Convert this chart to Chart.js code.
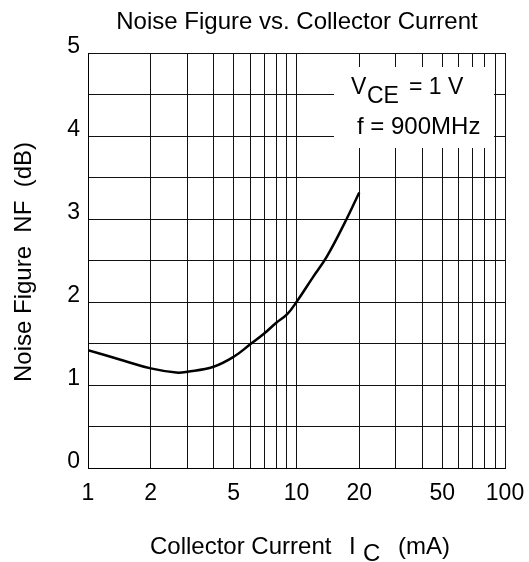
<!DOCTYPE html>
<html>
<head>
<meta charset="utf-8">
<script src="https://cdn.jsdelivr.net/npm/chart.js@4"></script>
<style>
  body { margin: 0; background: #fff; }
  #wrap { width: 529px; height: 562px; }
</style>
</head>
<body>
<div id="wrap"><canvas id="nfChart" width="529" height="562"></canvas></div>
<script>
// values
const current = [1, 1.5, 2, 2.65, 3, 4, 5, 6, 7, 8, 9, 10, 12, 14, 17, 20];
const noiseFigure = [1.42, 1.29, 1.2, 1.15, 1.16, 1.22, 1.34, 1.49, 1.62, 1.75, 1.85, 2.0, 2.3, 2.55, 2.95, 3.32];

const xGridValues = [1, 2, 3, 4, 5, 6, 7, 8, 9, 10, 20, 30, 40, 50, 60, 70, 80, 90, 100];
const xTickLabels = [1, 2, 5, 10, 20, 50, 100];
const yTickLabels = [0, 1, 2, 3, 4, 5];

const FONT = "'Liberation Sans', Arial, sans-serif";

// title, axis titles (with subscripts) and the condition box
const textPlugin = {
    id: 'textPlugin',
    beforeDatasetsDraw(chart) {
        const ctx = chart.ctx;
        ctx.save();
        ctx.fillStyle = '#fff';
        ctx.fillRect(334, 67, 160, 81);
        ctx.fillStyle = '#000';
        ctx.textBaseline = 'middle';
        ctx.textAlign = 'left';
        ctx.font = '23px ' + FONT;
        ctx.fillText('V', 351, 88);
        ctx.fillText('CE', 367, 97);
        ctx.fillText('= 1 V', 409, 88);
        ctx.font = '24px ' + FONT;
        ctx.fillText('f = 900MHz', 357, 127);
        ctx.restore();
    },
    afterDraw(chart) {
        const ctx = chart.ctx;
        ctx.save();
        ctx.fillStyle = '#000';
        ctx.textBaseline = 'middle';
        ctx.font = '24px ' + FONT;

        ctx.textAlign = 'center';
        ctx.fillText('Noise Figure vs. Collector Current', 297, 22);

        ctx.textAlign = 'left';
        ctx.fillText('Collector Current', 150, 547);
        ctx.fillText('I', 349, 547);
        ctx.fillText('C', 363, 554);
        ctx.fillText('(mA)', 398, 547);

        ctx.translate(24, 262);
        ctx.rotate(-Math.PI / 2);
        ctx.textAlign = 'center';
        ctx.fillText('Noise Figure  NF  (dB)', 0, 0);
        ctx.restore();
    }
};

new Chart(document.getElementById('nfChart'), {
    type: 'line',
    data: {
        datasets: [{
            data: current.map((c, i) => ({ x: c, y: noiseFigure[i] })),
            borderColor: '#000',
            borderWidth: 2.5,
            pointRadius: 0,
            fill: false,
            tension: 0.4
        }]
    },
    options: {
        responsive: false,
        devicePixelRatio: 1,
        animation: false,
        layout: { padding: { top: 53, right: 24, left: 0, bottom: 0 } },
        plugins: {
            legend: { display: false },
            tooltip: { enabled: false }
        },
        scales: {
            x: {
                type: 'logarithmic',
                min: 1,
                max: 100,
                afterBuildTicks: scale => {
                    scale.ticks = xGridValues.map(v => ({ value: v }));
                },
                afterFit: scale => {
                    scale.height = 94;
                    scale.paddingLeft = 0;
                    scale.paddingRight = 0;
                },
                grid: { color: '#111', lineWidth: 1, drawTicks: false },
                border: { color: '#000', width: 1 },
                ticks: {
                    autoSkip: false,
                    maxRotation: 0,
                    padding: 12,
                    color: '#000',
                    font: { family: FONT, size: 23 },
                    callback: v => xTickLabels.includes(v) ? String(v) : ''
                }
            },
            y: {
                min: 0,
                max: 5,
                afterFit: scale => {
                    scale.width = 88;
                    scale.paddingTop = 0;
                    scale.paddingBottom = 0;
                },
                grid: { color: '#111', lineWidth: 1, drawTicks: false },
                border: { color: '#000', width: 1 },
                ticks: {
                    stepSize: 0.5,
                    padding: 8,
                    labelOffset: -6,
                    color: '#000',
                    font: { family: FONT, size: 23 },
                    callback: v => yTickLabels.includes(v) ? String(v) : ''
                }
            }
        }
    },
    plugins: [textPlugin]
});
</script>
</body>
</html>
